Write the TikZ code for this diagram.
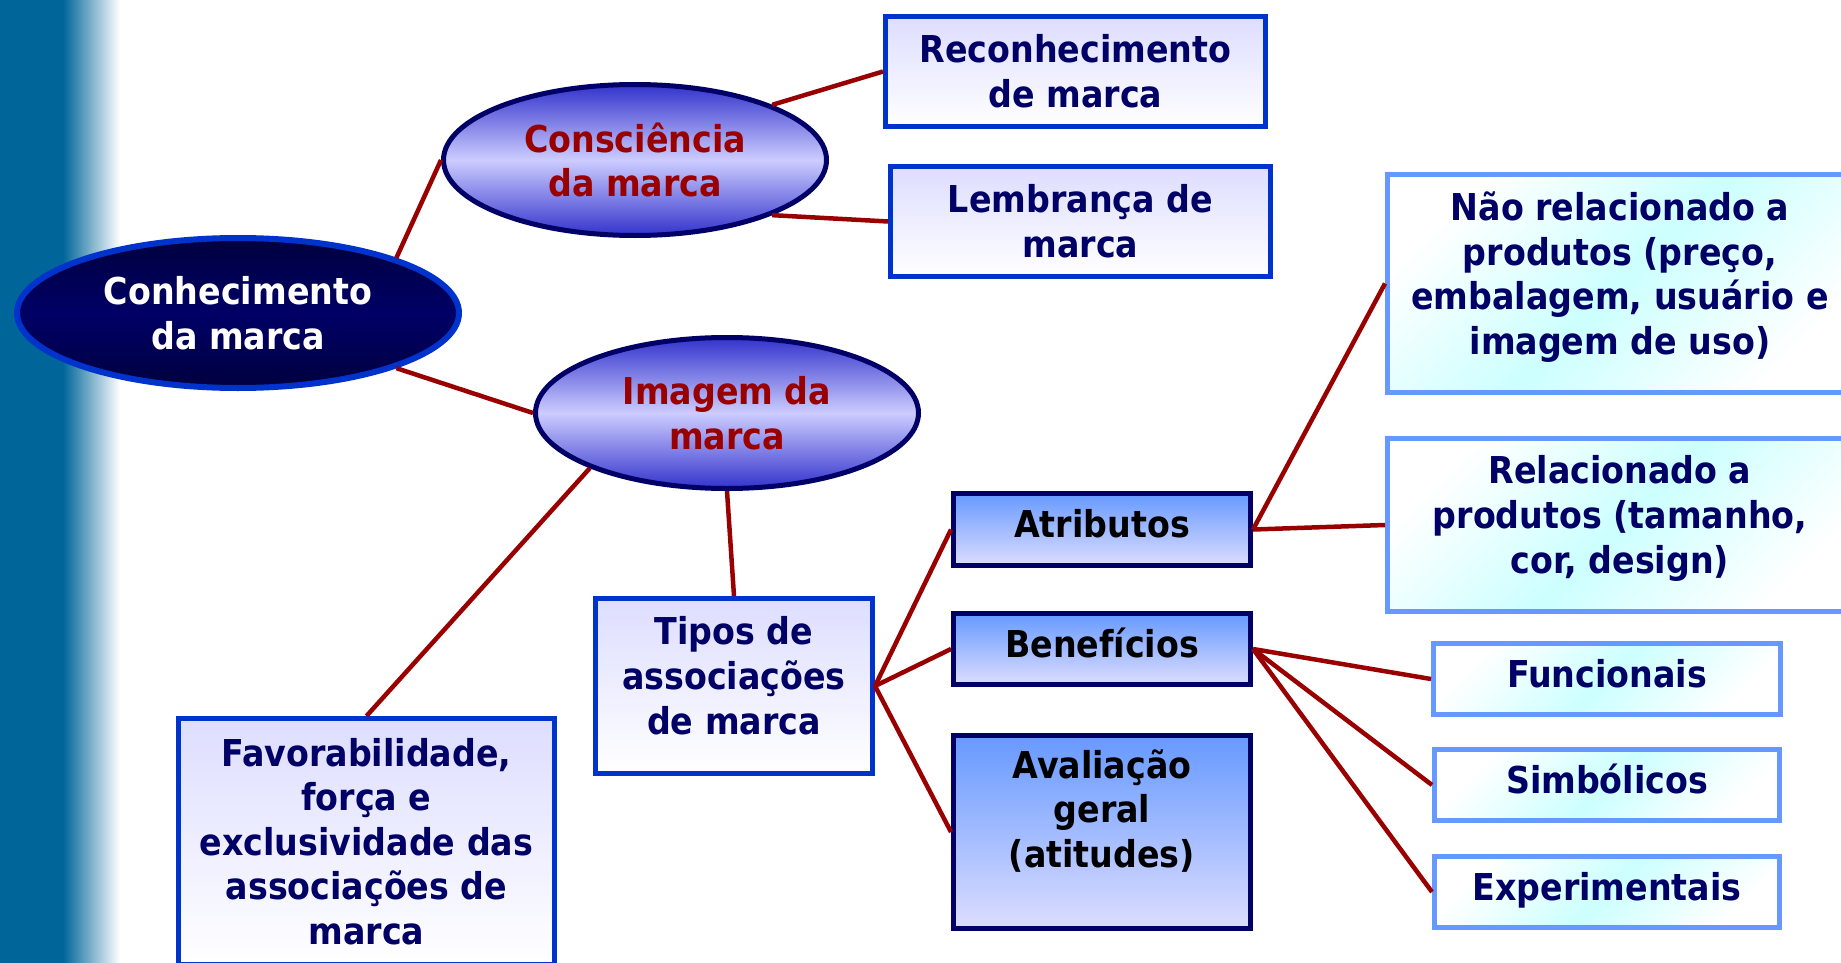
\documentclass[tikz,border=0pt]{standalone}
\usepackage{fontspec}
\setmainfont{DejaVu Sans Condensed}
\usepackage{tikz}
\usetikzlibrary{positioning,shapes.geometric}
\definecolor{navy}{HTML}{000066}
\definecolor{deepnavy}{HTML}{00003F}
\definecolor{royal}{HTML}{0033CC}
\definecolor{wine}{HTML}{990000}
\definecolor{barteal}{HTML}{006699}
\definecolor{sky}{HTML}{6699FF}
\definecolor{lilac}{HTML}{DDDDFF}
\definecolor{aqua}{HTML}{CCFFFF}
\definecolor{iris}{HTML}{3333CC}
\definecolor{periw}{HTML}{CCCCFF}

\begin{document}
\begin{tikzpicture}[
  x=1pt, y=-1pt,
  every node/.style={font=\fontsize{37}{44.6}\selectfont\bfseries, align=center},
  oval/.style={ellipse, draw=navy, line width=5pt, inner sep=0pt,
               top color=iris, bottom color=iris, middle color=periw,
               text=wine, minimum width=383pt, minimum height=151pt},
  box/.style={rectangle, draw=royal, line width=5pt,
              top color=lilac, bottom color=white, text=navy},
  attr/.style={rectangle, draw=navy, line width=5pt, minimum width=297pt,
               text depth=12pt, top color=sky, bottom color=lilac, text=black},
  leaf/.style={rectangle, draw=sky, line width=5pt, top color=white,
               bottom color=white, middle color=aqua, shading angle=45, text=navy},
  link/.style={wine, line width=4.5pt},
]
\useasboundingbox (0,0) rectangle (1841,963);

% Side bar
\fill[barteal] (0,0) rectangle (63,963);
\shade[left color=barteal, right color=white] (63,0) rectangle (120,963);

% Core ellipses
\node[oval, draw=royal, line width=6pt, top color=deepnavy, bottom color=deepnavy,
      middle color=navy, text=white, minimum width=442pt, minimum height=150pt]
      (conh) at (238,313) {Conhecimento\\da marca};
\node[oval] (consc) at (635,160) {Consciência\\da marca};
\node[oval] (imag) at (727,413) {Imagem da\\marca};

% Awareness boxes
\node[box, minimum width=380pt, minimum height=110pt] (recon) at (1075.5,71.5) {Reconhecimento\\de marca};
\node[box, minimum width=380pt, minimum height=110pt] (lemb) at (1080.5,221.5) {Lembrança de\\marca};

% Image boxes
\node[box, minimum width=277pt, minimum height=175pt, text depth=21pt] (tipos) at (734,686) {Tipos de\\associações\\de marca};
\node[box, minimum width=376pt, minimum height=246pt] (favor) at (366.5,841.5)
  {Favorabilidade,\\força e\\exclusividade das\\associações de\\marca};

% Association types
\node[attr, minimum height=72pt] (atrib) at (1102,529.5) {Atributos};
\node[attr, minimum height=71pt, below=43pt of atrib] (benef) {Benefícios};
\node[attr, minimum height=193pt, text depth=47pt, below=46pt of benef] (aval) {Avaliação\\geral\\(atitudes)};

% Leaves
\node[leaf, minimum width=465pt, minimum height=218pt, text depth=21pt] (naorel) at (1620,283.5)
  {Não relacionado a\\produtos (preço,\\embalagem, usuário e\\imagem de uso)};
\node[leaf, minimum width=465pt, minimum height=173pt, text depth=21pt] (rel) at (1620,525)
  {Relacionado a\\produtos (tamanho,\\cor, design)};
\node[leaf, minimum width=347pt, minimum height=71pt, text depth=12pt] (func) at (1607,679) {Funcionais};
\node[leaf, minimum width=345pt, minimum height=71pt, text depth=12pt, below=30pt of func] (simb) {Simbólicos};
\node[leaf, minimum width=345pt, minimum height=71pt, text depth=12pt, below=31pt of simb] (exper) {Experimentais};

% Connectors
\draw[link] (conh.north east) -- (consc.west);
\draw[link] (conh.south east) -- (imag.west);
\draw[link] (consc.north east) -- (recon.west);
\draw[link] (consc.south east) -- (lemb.west);
\draw[link] (imag.south west) -- (favor.north);
\draw[link] (imag.south) -- (tipos.north);
\draw[link] (tipos.east) -- (atrib.west);
\draw[link] (tipos.east) -- (benef.west);
\draw[link] (tipos.east) -- (aval.west);
\draw[link] (atrib.east) -- (naorel.west);
\draw[link] (atrib.east) -- (rel.west);
\draw[link] (benef.east) -- (func.west);
\draw[link] (benef.east) -- (simb.west);
\draw[link] (benef.east) -- (exper.west);
\end{tikzpicture}
\end{document}
